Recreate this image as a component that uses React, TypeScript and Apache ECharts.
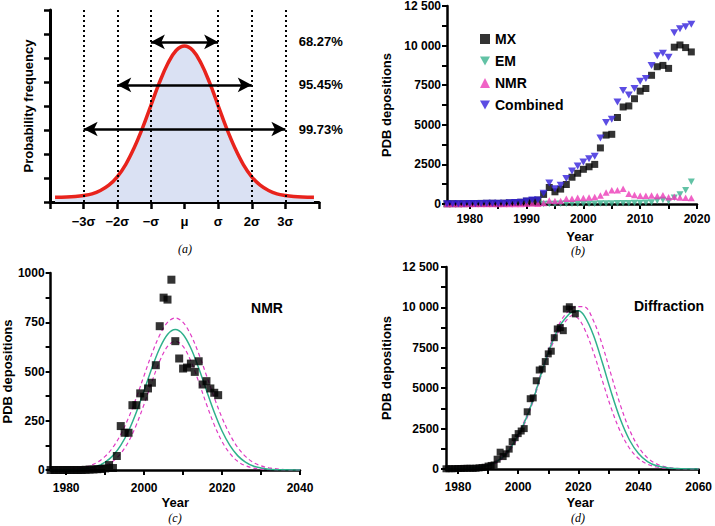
import React, { useEffect, useRef } from 'react';
import * as echarts from 'echarts';

const FONT = "'Liberation Sans', Arial, Helvetica, sans-serif";

// ---- Panel (a): normal distribution ----
const NORMAL_X = [-3.85, -3.5, -3.25, -3, -2.75, -2.5, -2.25, -2, -1.75, -1.5, -1.25, -1, -0.75, -0.5, -0.25, 0,
  0.25, 0.5, 0.75, 1, 1.25, 1.5, 1.75, 2, 2.25, 2.5, 2.75, 3, 3.25, 3.5, 3.85];
const NORMAL_Y = [0.2, 0.21, 0.23, 0.27, 0.34, 0.48, 0.7, 1.05, 1.56, 2.25, 3.08, 4.02, 4.96, 5.76, 6.31, 6.5,
  6.31, 5.76, 4.96, 4.02, 3.08, 2.25, 1.56, 1.05, 0.7, 0.48, 0.34, 0.27, 0.23, 0.21, 0.2];
const SIGMA_TICKS = [-4, -3, -2, -1, 0, 1, 2, 3, 4];
const SIGMA_LABELS = ['', '\u22123\u03c3', '\u22122\u03c3', '\u2212\u03c3', '\u03bc', '\u03c3', '2\u03c3', '3\u03c3', ''];
const SIGMA_LINES = [-3, -2, -1, 1, 2, 3];
const ARROW_HALF_WIDTHS = [1, 2, 3];
const ARROW_LEVELS = [6.67, 4.88, 3.04];
const PERCENT_LABELS = ['68.27%', '95.45%', '99.73%'];

// ---- Panel (b)-(d): PDB depositions ----
const YEARS = [1976, 1977, 1978, 1979, 1980, 1981, 1982, 1983, 1984, 1985, 1986, 1987, 1988, 1989,
  1990, 1991, 1992, 1993, 1994, 1995, 1996, 1997, 1998, 1999, 2000, 2001, 2002, 2003, 2004, 2005,
  2006, 2007, 2008, 2009, 2010, 2011, 2012, 2013, 2014, 2015, 2016, 2017, 2018, 2019];
const MX = [13, 20, 18, 22, 30, 32, 38, 42, 45, 40, 50, 70, 90, 110,
  180, 220, 250, 606, 1040, 770, 940, 1230, 1690, 1940, 2190, 2350, 2500, 3540, 4350, 4400,
  5460, 6125, 6190, 6646, 7125, 7290, 8125, 8667, 8750, 8560, 9900, 10040, 9875, 9600];
const NMR = [0, 0, 0, 0, 0, 0, 0, 0, 0, 1, 2, 3, 4, 5,
  8, 25, 10, 71, 223, 189, 189, 329, 329, 389, 372, 414, 443, 532, 730, 875,
  865, 966, 654, 566, 515, 520, 540, 498, 552, 434, 451, 414, 392, 380];
const COMBINED = [13, 20, 18, 22, 30, 32, 38, 42, 45, 41, 52, 73, 94, 115,
  188, 245, 260, 680, 1333, 965, 1190, 1604, 2083, 2396, 2646, 2854, 3020, 4167, 5146, 5354,
  6437, 7167, 6875, 7292, 7750, 7917, 8750, 9354, 9521, 9271, 10812, 11060, 11187, 11350];
const EM_YEARS = [1993, 1994, 1995, 1996, 1997, 1998, 1999, 2000, 2001, 2002, 2003, 2004, 2005,
  2006, 2007, 2008, 2009, 2010, 2011, 2012, 2013, 2014, 2015, 2016, 2017, 2018, 2019];
const EM = [3, 5, 5, 8, 10, 12, 15, 18, 20, 22, 25, 30, 35,
  40, 50, 55, 60, 70, 80, 100, 200, 250, 180, 400, 600, 875, 1400];

// fitted curves, panel (c)
const FIT_C_YEARS = [1976, 1980, 1984, 1986, 1988, 1990, 1992, 1994, 1996, 1998, 2000, 2002, 2004, 2006, 2008,
  2010, 2012, 2014, 2016, 2018, 2020, 2022, 2024, 2026, 2028, 2030, 2032, 2036, 2040];
const FIT_C_MID = [0, 1, 4, 10, 20, 40, 73, 125, 198, 293, 404, 518, 618, 688, 713,
  688, 618, 518, 404, 293, 198, 125, 73, 40, 20, 10, 4, 1, 0];
const FIT_C_UPPER = [0, 2, 11, 21, 39, 69, 115, 180, 265, 367, 480, 591, 685, 749, 772,
  749, 685, 591, 480, 367, 265, 180, 115, 69, 39, 21, 11, 2, 0];
const FIT_C_LOWER = [0, 0, 2, 4, 10, 22, 44, 84, 144, 229, 334, 448, 553, 627, 654,
  627, 553, 448, 334, 229, 144, 84, 44, 22, 10, 4, 2, 0, 0];

// fitted curves, panel (d)
const FIT_D_YEARS = [1976, 1980, 1984, 1987, 1990, 1993, 1996, 1999, 2002, 2005, 2008, 2011, 2014, 2017,
  2018, 2020, 2022, 2025, 2028, 2031, 2034, 2037, 2040, 2043, 2046, 2050, 2055, 2060];
const FIT_D_MID = [0, 15, 50, 110, 220, 480, 950, 1750, 2850, 4300, 6100, 7700, 8900, 9600,
  9720, 9790, 9470, 8290, 6570, 4710, 3057, 1795, 955, 459, 200, 57, 9, 0];
const FIT_D_UPPER = [0, 25, 70, 140, 270, 560, 1050, 1850, 2950, 4400, 6200, 7850, 9100, 9850,
  9950, 10050, 10040, 9190, 7660, 5770, 3940, 2430, 1360, 690, 315, 95, 15, 1];
const FIT_D_LOWER = [0, 8, 35, 85, 180, 410, 870, 1650, 2750, 4200, 6000, 7550, 8700, 9400,
  9500, 9300, 8700, 7245, 5460, 3725, 2300, 1286, 650, 299, 123, 33, 4, 0];

const B_X_TICKS = [1980, 1985, 1990, 1995, 2000, 2005, 2010, 2015, 2020];
const B_X_LABELS = [1980, 1990, 2000, 2010, 2020];
const C_X_TICKS = [1980, 1990, 2000, 2010, 2020, 2030, 2040];
const C_X_LABELS = [1980, 2000, 2020, 2040];
const D_X_TICKS = [1980, 1990, 2000, 2010, 2020, 2030, 2040, 2050, 2060];
const D_X_LABELS = [1980, 2000, 2020, 2040, 2060];

const C_MX = '#000000';
const C_EM = '#3bb38e';
const C_NMR = '#ec3bb8';
const C_COMB = '#3320dc';
const C_FIT = '#2fb08c';
const C_DASH = '#e03cc4';
const DOWN_TRI = 'path://M0,0L10,0L5,9Z';

const zip = (xs: number[], ys: number[]) => xs.map((x, i) => [x, ys[i]]);

const tickFont = { fontSize: 12, fontWeight: 'bold' as const, color: '#000', fontFamily: FONT };
const nameFont = { fontSize: 13, fontWeight: 'bold' as const, color: '#000', fontFamily: FONT };
const axisLine = { show: true, onZero: false, lineStyle: { color: '#000', width: 2.5 } };
const tickStyle = { color: '#000', width: 2 };

const fmtBig = (v: number) => (v >= 10000 ? `${Math.floor(v / 1000)} ${String(v % 1000).padStart(3, '0')}` : String(v));

function buildOption(): any {
  const yearAxis = (grid: number, min: number, max: number, ticks: number[], labels: number[], gap: number, margin: number) => ({
    gridIndex: grid, type: 'value', min, max,
    axisLine, splitLine: { show: false },
    axisTick: { show: true, length: 5, lineStyle: tickStyle, customValues: ticks },
    axisLabel: { ...tickFont, margin, customValues: labels, formatter: (v: number) => String(v) },
    name: 'Year', nameLocation: 'middle', nameGap: gap,
    nameTextStyle: { ...nameFont, padding: [0, 0, 0, grid === 2 ? 0 : 16] },
  });
  const countAxis = (grid: number, max: number, interval: number, labelStep: number, gap: number, margin: number) => ({
    gridIndex: grid, type: 'value', min: 0, max, interval,
    axisLine, splitLine: { show: false },
    axisTick: { show: true, length: 5, lineStyle: tickStyle },
    axisLabel: { ...tickFont, margin, formatter: (v: number) => (v % labelStep === 0 ? fmtBig(v) : '') },
    name: 'PDB depositions', nameLocation: 'middle', nameGap: gap, nameTextStyle: nameFont,
  });

  const fitLine = (name: string, grid: number, xs: number[], ys: number[], color: string, dashed: boolean) => ({
    name, type: 'line', xAxisIndex: grid, yAxisIndex: grid, data: zip(xs, ys), smooth: 0.35,
    symbol: 'none', silent: true, z: 2,
    lineStyle: { color, width: dashed ? 1.2 : 1.5, type: dashed ? [4, 3] : 'solid' },
  });

  const caption = (text: string, x: number, y: number) => ({
    type: 'text', x, y,
    style: { text, font: "italic 12px 'Liberation Serif', serif", fill: '#000', align: 'center', verticalAlign: 'middle' },
  });

  return {
    animation: false,
    backgroundColor: '#fff',
    grid: [
      { left: 50, top: 10, width: 269, height: 192 },
      { left: 447, top: 5, width: 250, height: 199 },
      { left: 48, top: 273, width: 252, height: 197 },
      { left: 446, top: 267, width: 256, height: 202 },
    ],
    xAxis: [
      {
        gridIndex: 0, type: 'value', min: -4, max: 4, interval: 1,
        axisLine: { show: true, onZero: false, lineStyle: { color: '#000', width: 3 } },
        axisTick: { show: true, length: 7, lineStyle: { color: '#000', width: 2.5 } },
        axisLabel: {
          fontSize: 13, fontWeight: 'bold', color: '#000', fontFamily: FONT, margin: 13,
          formatter: (v: number) => SIGMA_LABELS[SIGMA_TICKS.indexOf(v)] ?? '',
        },
        splitLine: { show: false },
      },
      yearAxis(1, 1976, 2020, B_X_TICKS, B_X_LABELS, 26, 9),
      yearAxis(2, 1976, 2040, C_X_TICKS, C_X_LABELS, 26, 12),
      yearAxis(3, 1976, 2060, D_X_TICKS, D_X_LABELS, 27, 12),
    ],
    yAxis: [
      {
        gridIndex: 0, type: 'value', min: 0, max: 8, interval: 1,
        axisLine: { show: true, onZero: false, lineStyle: { color: '#000', width: 3 } },
        axisTick: { show: true, length: 6, lineStyle: { color: '#000', width: 2.5 } },
        axisLabel: { show: false }, splitLine: { show: false },
        name: 'Probability frequency', nameLocation: 'middle', nameGap: 15, nameTextStyle: nameFont,
      },
      countAxis(1, 12500, 1250, 2500, 54, 6),
      countAxis(2, 1000, 125, 250, 32, 6),
      countAxis(3, 12500, 1250, 2500, 53, 7),
    ],
    legend: {
      data: ['MX', 'EM', 'NMR', 'Combined'],
      orient: 'vertical', left: 475, top: 27, itemWidth: 10, itemHeight: 10, itemGap: 8,
      selectedMode: false,
      textStyle: { fontSize: 14, fontWeight: 'bold', color: '#000', fontFamily: FONT, lineHeight: 14 },
    },
    series: [
      {
        name: 'Normal', type: 'line', xAxisIndex: 0, yAxisIndex: 0, data: zip(NORMAL_X, NORMAL_Y),
        smooth: 0.4, symbol: 'none', silent: true,
        lineStyle: { color: '#e8231c', width: 3.5 },
        areaStyle: { color: '#dae1f3', origin: 'start', opacity: 1 },
        markLine: {
          silent: true, symbol: ['none', 'none'], label: { show: false },
          lineStyle: { type: [2, 3], color: '#000', width: 2 },
          data: [
            ...SIGMA_LINES.map((v) => ({ xAxis: v })),
            ...ARROW_HALF_WIDTHS.map((w, i) => [
              { coord: [-w, ARROW_LEVELS[i]], symbol: 'arrow', symbolSize: [11, 14], lineStyle: { type: 'solid', width: 2.5, color: '#000' } },
              { coord: [w, ARROW_LEVELS[i]], symbol: 'arrow', symbolSize: [11, 14], lineStyle: { type: 'solid', width: 2.5, color: '#000' } },
            ]),
          ],
        },
        markPoint: {
          silent: true,
          data: PERCENT_LABELS.map((t, i) => ({
            coord: [3.38, ARROW_LEVELS[i]], symbol: 'circle', symbolSize: 1,
            itemStyle: { color: 'rgba(0,0,0,0)' },
            label: { show: true, position: 'right', distance: 0, formatter: t, fontSize: 13, fontWeight: 'bold', color: '#000', fontFamily: FONT },
          })),
        },
      },
      // panel b
      { name: 'MX', type: 'scatter', xAxisIndex: 1, yAxisIndex: 1, data: zip(YEARS, MX), symbol: 'rect', symbolSize: 7, itemStyle: { color: C_MX }, z: 3 },
      { name: 'EM', type: 'scatter', xAxisIndex: 1, yAxisIndex: 1, data: zip(EM_YEARS, EM), symbol: DOWN_TRI, symbolSize: [7, 6.5], itemStyle: { color: C_EM }, z: 3 },
      { name: 'NMR', type: 'scatter', xAxisIndex: 1, yAxisIndex: 1, data: zip(YEARS, NMR), symbol: 'triangle', symbolSize: [7, 6.5], itemStyle: { color: C_NMR }, z: 3 },
      { name: 'Combined', type: 'scatter', xAxisIndex: 1, yAxisIndex: 1, data: zip(YEARS, COMBINED), symbol: DOWN_TRI, symbolSize: [8, 7], itemStyle: { color: C_COMB }, z: 3 },
      // panel c
      fitLine('NMR fit upper', 2, FIT_C_YEARS, FIT_C_UPPER, C_DASH, true),
      fitLine('NMR fit lower', 2, FIT_C_YEARS, FIT_C_LOWER, C_DASH, true),
      fitLine('NMR fit', 2, FIT_C_YEARS, FIT_C_MID, C_FIT, false),
      { name: 'NMR depositions', type: 'scatter', xAxisIndex: 2, yAxisIndex: 2, data: zip(YEARS, NMR), symbol: 'rect', symbolSize: 8, itemStyle: { color: '#000' }, z: 4 },
      // panel d
      fitLine('Diffraction fit upper', 3, FIT_D_YEARS, FIT_D_UPPER, C_DASH, true),
      fitLine('Diffraction fit lower', 3, FIT_D_YEARS, FIT_D_LOWER, C_DASH, true),
      fitLine('Diffraction fit', 3, FIT_D_YEARS, FIT_D_MID, C_FIT, false),
      { name: 'Diffraction depositions', type: 'scatter', xAxisIndex: 3, yAxisIndex: 3, data: zip(YEARS, MX), symbol: 'rect', symbolSize: 7, itemStyle: { color: '#000' }, z: 4 },
    ],
    graphic: [
      caption('(a)', 185, 249),
      caption('(b)', 578, 251),
      caption('(c)', 175, 518),
      caption('(d)', 578, 518),
      { type: 'text', x: 267, y: 308, style: { text: 'NMR', font: `bold 14px ${FONT}`, fill: '#000', align: 'center', verticalAlign: 'middle' } },
      { type: 'text', x: 669, y: 306, style: { text: 'Diffraction', font: `bold 14px ${FONT}`, fill: '#000', align: 'center', verticalAlign: 'middle' } },
    ],
  };
}

export default function App() {
  const ref = useRef<HTMLDivElement>(null);
  useEffect(() => {
    if (!ref.current) return;
    const chart = echarts.init(ref.current, null, { renderer: 'svg' });
    chart.setOption(buildOption());
    return () => chart.dispose();
  }, []);
  return (
    <div
      ref={ref}
      style={{ position: 'absolute', left: 0, top: 0, width: 715, height: 526, background: '#fff' }}
    />
  );
}
